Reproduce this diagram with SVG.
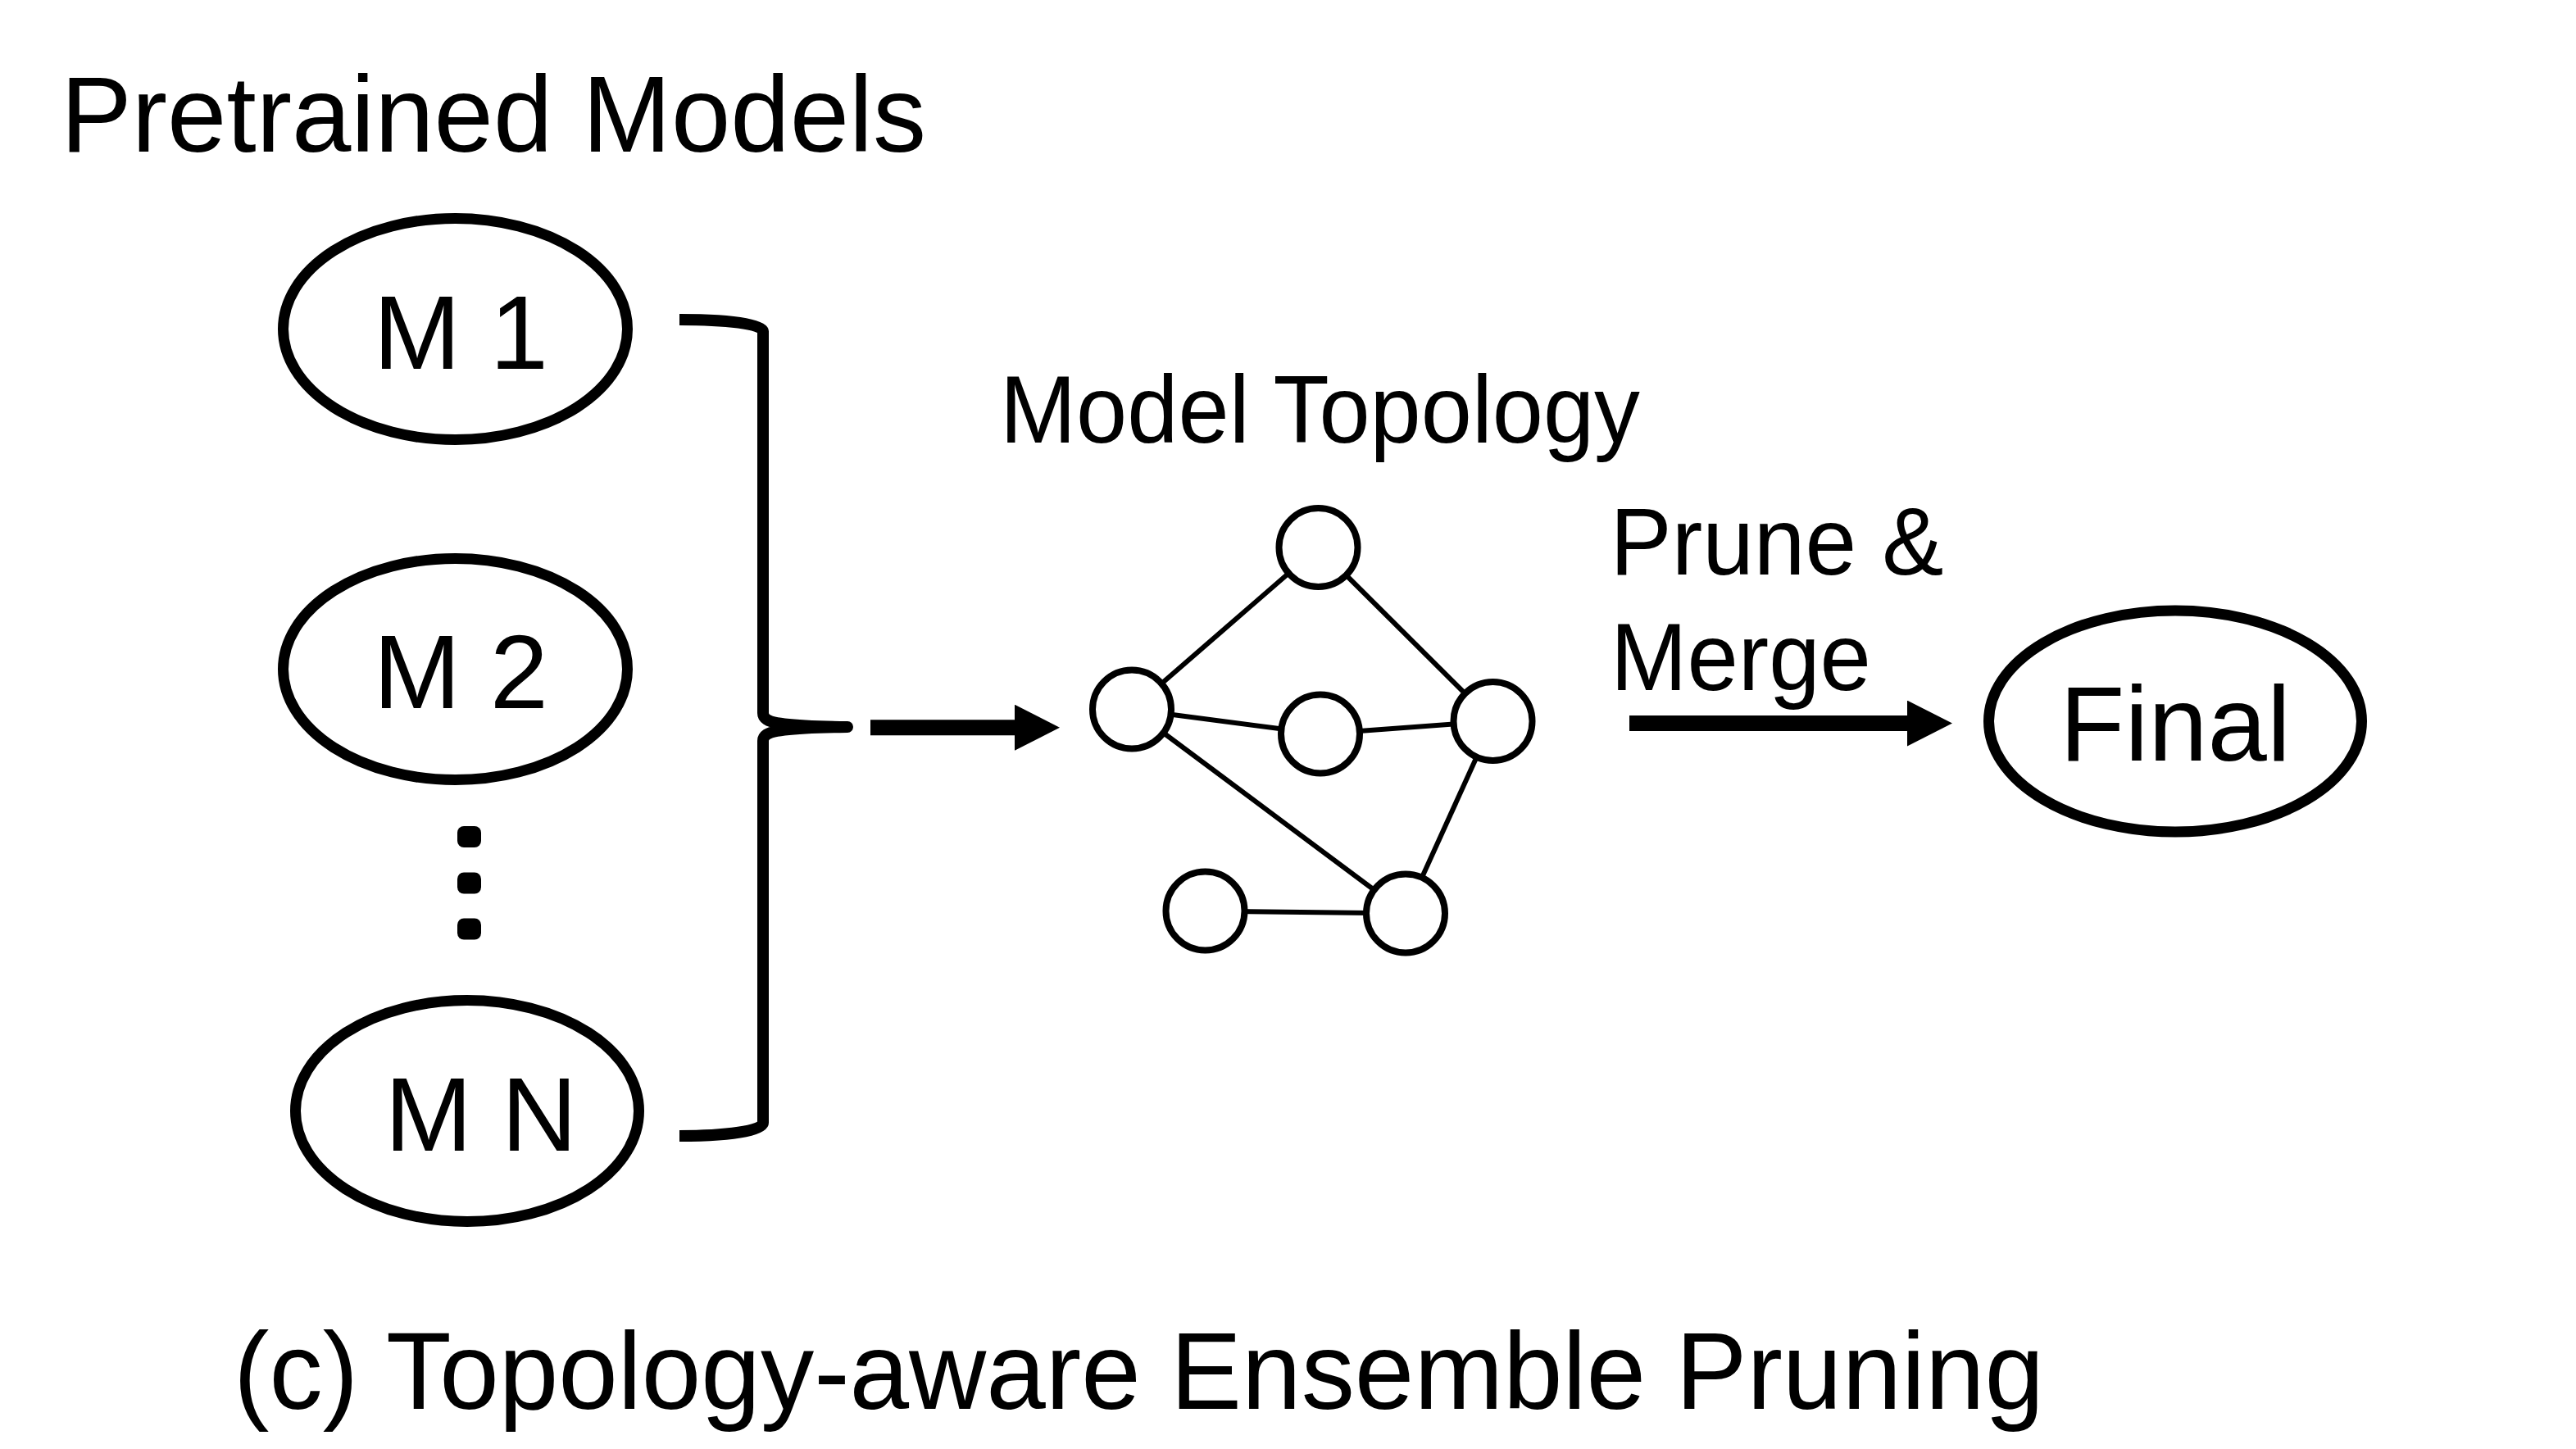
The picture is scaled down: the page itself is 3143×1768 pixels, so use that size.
<svg xmlns="http://www.w3.org/2000/svg" width="3143" height="1768" viewBox="0 0 3143 1768">
  <defs>
    <marker id="head" markerUnits="userSpaceOnUse" markerWidth="56" markerHeight="56" refX="0" refY="28" orient="auto">
      <path d="M0,0 L55,28 L0,56 Z" fill="#000"/>
    </marker>
    <style>
      text { font-family: "Liberation Sans", Arial, sans-serif; fill: #000; }
      .model { fill: #fff; stroke: #000; stroke-width: 13; }
      .gnode { fill: #fff; stroke: #000; stroke-width: 8; }
      .edge { stroke: #000; stroke-width: 6; fill: none; }
      .arrow { stroke: #000; stroke-width: 19; fill: none; }
      .brace { stroke: #000; stroke-width: 14; fill: none; stroke-linejoin: round; }
      .lbl { font-size: 128px; }
      .mid { font-size: 117px; }
    </style>
  </defs>
  <rect width="3143" height="1768" fill="#fff"/>

  <text id="title" x="74" y="185" font-size="131" textLength="1056" lengthAdjust="spacingAndGlyphs">Pretrained Models</text>

  <g id="m1">
    <ellipse class="model" cx="555.5" cy="401.5" rx="210" ry="135"/>
    <text class="lbl" x="455.5" y="450">M 1</text>
  </g>
  <g id="m2">
    <ellipse class="model" cx="555.5" cy="816.5" rx="210" ry="135"/>
    <text class="lbl" x="455.5" y="864">M 2</text>
  </g>
  <g id="dots">
    <rect x="558" y="1008" width="29" height="26" rx="8"/>
    <rect x="558" y="1064.5" width="29" height="26" rx="8"/>
    <rect x="558" y="1120.5" width="29" height="26" rx="8"/>
  </g>
  <g id="mn">
    <ellipse class="model" cx="570" cy="1355.5" rx="209.5" ry="135"/>
    <text class="lbl" x="469.5" y="1403.5">M N</text>
  </g>

  <text id="topology-label" class="mid" x="1220" y="540" textLength="781" lengthAdjust="spacingAndGlyphs">Model Topology</text>

  <g id="connectors">
    <path id="brace" class="brace" d="M829,390 C885,390 931,395 931,404 L931,870 C931,882 950,886 1034,887 C950,888 931,892 931,904 L931,1370 C931,1380 885,1386 829,1386"/>
    <line id="arrow-to-topology" class="arrow" x1="1062" y1="887.7" x2="1238" y2="887.7" marker-end="url(#head)"/>
    <line id="arrow-to-final" class="arrow" x1="1988" y1="882.6" x2="2327" y2="882.6" marker-end="url(#head)"/>
    <g id="graph-edges">
      <line class="edge" x1="1381" y1="865.5" x2="1608.5" y2="668"/>
      <line class="edge" x1="1608.5" y1="668" x2="1821.5" y2="880"/>
      <line class="edge" x1="1381" y1="865.5" x2="1611" y2="895.5"/>
      <line class="edge" x1="1611" y1="895.5" x2="1821.5" y2="880"/>
      <line class="edge" x1="1381" y1="865.5" x2="1715" y2="1114.5"/>
      <line class="edge" x1="1821.5" y1="880" x2="1715" y2="1114.5"/>
      <line class="edge" x1="1470.5" y1="1111.5" x2="1715" y2="1114.5"/>
    </g>
  </g>

  <g id="g-top"><circle class="gnode" cx="1608.5" cy="668" r="48"/></g>
  <g id="g-left"><circle class="gnode" cx="1381" cy="865.5" r="48"/></g>
  <g id="g-mid"><circle class="gnode" cx="1611" cy="895.5" r="48"/></g>
  <g id="g-right"><circle class="gnode" cx="1821.5" cy="880" r="48"/></g>
  <g id="g-botleft"><circle class="gnode" cx="1470.5" cy="1111.5" r="48"/></g>
  <g id="g-botright"><circle class="gnode" cx="1715" cy="1114.5" r="48"/></g>

  <g id="prune-label">
    <text class="mid" x="1964.5" y="701" textLength="407" lengthAdjust="spacingAndGlyphs">Prune &amp;</text>
    <text class="mid" x="1965" y="842" textLength="318" lengthAdjust="spacingAndGlyphs">Merge</text>
  </g>

  <g id="final">
    <ellipse class="model" cx="2654" cy="880" rx="227.5" ry="135"/>
    <text x="2513" y="928" font-size="130">Final</text>
  </g>

  <text id="caption" x="285" y="1719" font-size="134" textLength="2209" lengthAdjust="spacingAndGlyphs">(c) Topology-aware Ensemble Pruning</text>
</svg>
